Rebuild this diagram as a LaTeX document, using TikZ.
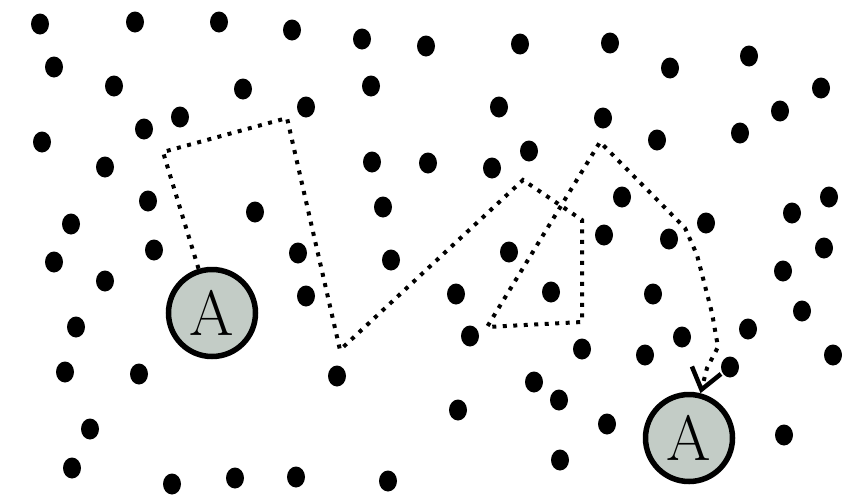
\documentclass[tikz,border=0pt]{standalone}
\usetikzlibrary{arrows.meta,shapes.geometric}
\definecolor{agentgrey}{RGB}{195,204,198}
\tikzset{
  blob/.style={ellipse,fill=black,inner sep=0pt,minimum width=18pt,minimum height=21pt},
  agent/.style={circle,draw=black,line width=5.5pt,fill=agentgrey,minimum size=87pt,inner sep=0pt,font=\fontsize{64}{64}\selectfont},
  walk/.style={line width=4pt,dash pattern=on 4pt off 6.5pt}
}
\begin{document}
\begin{tikzpicture}[x=1pt,y=-1pt,>={Straight Barb[length=20pt,width=30pt,line width=4.5pt]}]
\useasboundingbox[fill=white] (0,0) rectangle (842,498);
\foreach \x/\y [count=\i] in {40/24,135/22,219/22,292/30,362/39,426/46,520/44,610/43,670/68,749/56,
  54/67,114/86,243/89,371/86,821/88,306/107,180/117,499/107,603/118,780/111,
  144/129,740/133,657/140,42/142,105/167,372/162,428/163,492/168,529/151,148/201,
  255/212,383/207,622/197,706/223,792/213,829/197,71/224,604/235,669/239,154/250,
  298/253,509/252,824/248,54/262,391/260,105/281,306/296,76/327,65/372,139/374,
  337/376,90/429,72/468,172/484,235/478,296/477,388/481,783/271,456/294,551/292,
  653/294,802/311,470/336,582/349,645/355,682/337,748/329,730/367,833/355,534/382,
  559/400,458/410,607/424,784/435,560/460}
  \node[blob] (d\i) at (\x,\y) {};
\node[agent] (A1) at (212,313) {A};
\node[agent] (A2) at (689,438) {A};
\coordinate (c1) at (163,152);
\coordinate (c2) at (287,118);
\coordinate (c3) at (340,350);
\coordinate (c4) at (523,180);
\coordinate (c5) at (582,220);
\coordinate (c6) at (582,322);
\coordinate (c7) at (487,327);
\coordinate (c8) at (600,142);
\coordinate (c9) at (685,228);
\coordinate (c10) at (697,255);
\coordinate (c11) at (712,313);
\coordinate (c12) at (718,347);
\coordinate (c13) at (707,368);
\draw[walk,->] (A1) -- (c1) -- (c2) -- (c3) -- (c4) -- (c5) -- (c6) -- (c7) -- (c8)
  -- (c9) -- (c10) -- (c11) -- (c12) -- (c13) -- (A2);
\end{tikzpicture}
\end{document}
